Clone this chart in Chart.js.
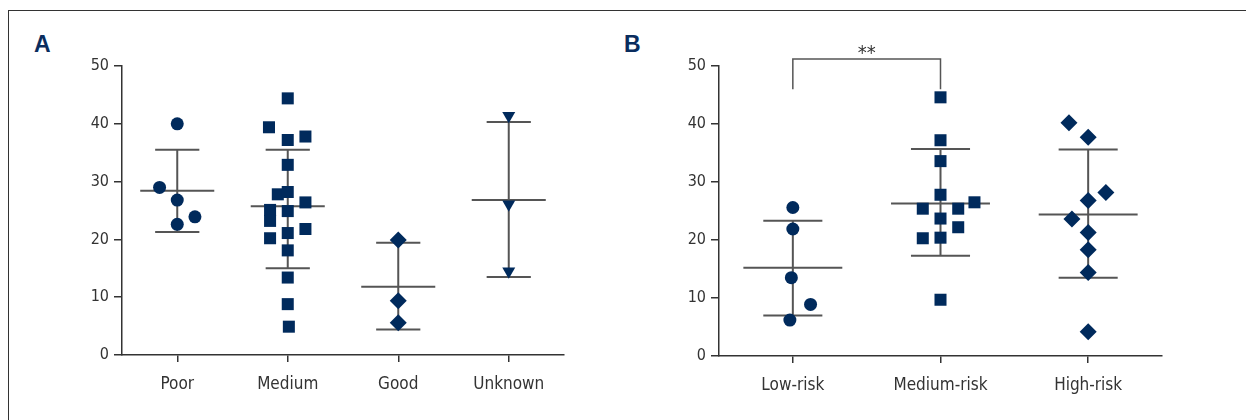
<!DOCTYPE html>
<html>
<head>
<meta charset="utf-8">
<script src="https://cdn.jsdelivr.net/npm/chart.js@4/dist/chart.umd.min.js"></script>
<style>
  body { margin: 0; width: 1246px; height: 420px; overflow: hidden; background: #fff; position: relative; }
  .frame { position: absolute; left: 8px; top: 10px; width: 1400px; height: 600px; border-top: 1px solid #333; border-left: 1px solid #333; }
  .lbl { position: absolute; font: bold 23px "Liberation Sans", Arial, sans-serif; color: #0a2d5e; line-height: 1; }
  canvas { position: absolute; top: 0; }
</style>
</head>
<body>
<div class="frame"></div>
<div class="lbl" style="left:34px; top:33px;">A</div>
<div class="lbl" style="left:624px; top:33px;">B</div>
<canvas id="graficoA" width="620" height="420" style="left:0px"></canvas>
<canvas id="graficoB" width="646" height="420" style="left:600px"></canvas>
<script>
// Painel A
const catsA = ["Poor", "Medium", "Good", "Unknown"];
const poor = [40, 29, 26.8, 23.9, 22.6];
const poorJit = [0, -0.16, 0, 0.16, 0];
const medium = [44.4, 39.4, 37.2, 37.8, 32.9, 27.8, 28.2, 26.4, 25.1, 24.9, 23.2, 21.8, 21.1, 20.2, 18.1, 13.4, 8.8, 4.9];
const mediumJit = [0, -0.17, 0, 0.16, 0, -0.09, 0, 0.16, -0.16, 0, -0.16, 0.16, 0, -0.16, 0, 0, 0, 0.01];
const good = [19.9, 9.4, 5.6];
const goodJit = [0, 0, 0];
const unknown = [41.4, 26.1, 14.5];
const unknownJit = [0, 0, 0];
const meanA = [28.4, 25.75, 11.8, 26.8];
const sdHiA = [35.5, 35.5, 19.4, 40.3];
const sdLoA = [21.3, 15.0, 4.4, 13.5];

// Painel B
const catsB = ["Low-risk", "Medium-risk", "High-risk"];
const lowRisk = [25.6, 21.9, 13.5, 8.9, 6.2];
const lowRiskJit = [0, 0, -0.01, 0.12, -0.02];
const medRisk = [44.6, 37.2, 33.6, 27.8, 25.4, 25.4, 26.5, 23.7, 22.2, 20.3, 20.4, 9.7];
const medRiskJit = [0, 0, 0, 0, -0.12, 0.12, 0.23, 0, 0.12, -0.12, 0, 0];
const highRisk = [40.2, 37.7, 28.2, 26.8, 23.6, 21.3, 18.3, 14.4, 4.2];
const highRiskJit = [-0.13, 0, 0.12, 0, -0.11, 0, 0, 0, 0];
const meanB = [15.2, 26.3, 24.4];
const sdHiB = [23.3, 35.7, 35.6];
const sdLoB = [7.0, 17.3, 13.5];

const yTicks = [0, 10, 20, 30, 40, 50];

const NAVY = "#002a5c";
const AXIS = "#333";
const BAR = "#555";
const FONT = "'Liberation Sans Narrow', 'DejaVu Sans Condensed', 'Roboto Condensed', sans-serif";

function pts(idx, vals, jit) {
  return vals.map((v, i) => ({ x: idx + jit[i], y: v }));
}

function serie(idx, vals, jit, style, r, rot) {
  return {
    data: pts(idx, vals, jit),
    pointStyle: style,
    pointRadius: r,
    pointRotation: rot || 0,
    backgroundColor: NAVY,
    borderColor: NAVY,
    borderWidth: 0,
    clip: false
  };
}

// media e desvio padrao
function barras(means, hi, lo) {
  return {
    id: "barras",
    beforeDatasetsDraw(chart) {
      const x = chart.scales.x, y = chart.scales.y, ctx = chart.ctx;
      ctx.save();
      ctx.strokeStyle = BAR;
      ctx.lineWidth = 2;
      ctx.beginPath();
      means.forEach((m, i) => {
        const c = i + 1;
        ctx.moveTo(x.getPixelForValue(c), y.getPixelForValue(hi[i]));
        ctx.lineTo(x.getPixelForValue(c), y.getPixelForValue(lo[i]));
        ctx.moveTo(x.getPixelForValue(c - 0.335), y.getPixelForValue(m));
        ctx.lineTo(x.getPixelForValue(c + 0.335), y.getPixelForValue(m));
        ctx.moveTo(x.getPixelForValue(c - 0.2), y.getPixelForValue(hi[i]));
        ctx.lineTo(x.getPixelForValue(c + 0.2), y.getPixelForValue(hi[i]));
        ctx.moveTo(x.getPixelForValue(c - 0.2), y.getPixelForValue(lo[i]));
        ctx.lineTo(x.getPixelForValue(c + 0.2), y.getPixelForValue(lo[i]));
      });
      ctx.stroke();
      ctx.restore();
    }
  };
}

function escalas(cats, yWidth, xHeight) {
  return {
    x: {
      type: "linear",
      min: 0.5,
      max: cats.length + 0.5,
      afterBuildTicks: s => { s.ticks = cats.map((c, i) => ({ value: i + 1 })); },
      afterFit: s => { s.height = xHeight; },
      ticks: { callback: v => cats[v - 1], color: AXIS, font: { family: FONT, size: 17 }, padding: 12, maxRotation: 0 },
      grid: { drawOnChartArea: false, drawTicks: true, tickLength: 7, color: AXIS, lineWidth: 1.5 },
      border: { color: AXIS, width: 1.5 }
    },
    y: {
      min: 0,
      max: 50,
      afterBuildTicks: s => { s.ticks = yTicks.map(v => ({ value: v })); },
      afterFit: s => { s.width = yWidth; },
      ticks: { color: AXIS, font: { family: FONT, size: 16 }, padding: 5 },
      grid: { drawOnChartArea: false, drawTicks: true, tickLength: 8, color: AXIS, lineWidth: 1.5 },
      border: { color: AXIS, width: 1.5 }
    }
  };
}

const base = {
  responsive: false,
  animation: false,
  plugins: { legend: { display: false }, tooltip: { enabled: false } }
};

// Grafico A
new Chart(document.getElementById("graficoA"), {
  type: "scatter",
  data: {
    datasets: [
      serie(1, poor, poorJit, "circle", 6.5),
      serie(2, medium, mediumJit, "rect", 8.5),
      serie(3, good, goodJit, "rectRot", 8.5),
      serie(4, unknown, unknownJit, "triangle", 7.5, 180)
    ]
  },
  options: Object.assign({}, base, {
    layout: { padding: { left: 60, right: 56, top: 66, bottom: 0 } },
    scales: escalas(catsA, 62, 65)
  }),
  plugins: [barras(meanA, sdHiA, sdLoA)]
});

// Grafico B, com colchete de significancia
const colchete = {
  id: "colchete",
  afterDraw(chart) {
    const x = chart.scales.x, y = chart.scales.y, ctx = chart.ctx;
    const x1 = x.getPixelForValue(1), x2 = x.getPixelForValue(2);
    const top = y.getPixelForValue(51.2), bot = y.getPixelForValue(46);
    ctx.save();
    ctx.strokeStyle = BAR;
    ctx.lineWidth = 1.5;
    ctx.beginPath();
    ctx.moveTo(x1, bot);
    ctx.lineTo(x1, top);
    ctx.lineTo(x2, top);
    ctx.lineTo(x2, bot);
    ctx.stroke();
    ctx.fillStyle = AXIS;
    ctx.font = "20px " + FONT;
    ctx.textAlign = "center";
    ctx.textBaseline = "middle";
    ctx.fillText("**", x.getPixelForValue(1.5), y.getPixelForValue(52.1));
    ctx.restore();
  }
};

new Chart(document.getElementById("graficoB"), {
  type: "scatter",
  data: {
    datasets: [
      serie(1, lowRisk, lowRiskJit, "circle", 6.5),
      serie(2, medRisk, medRiskJit, "rect", 8.5),
      serie(3, highRisk, highRiskJit, "rectRot", 8.5)
    ]
  },
  options: Object.assign({}, base, {
    layout: { padding: { left: 57, right: 84, top: 66, bottom: 0 } },
    scales: escalas(catsB, 62, 64)
  }),
  plugins: [barras(meanB, sdHiB, sdLoB), colchete]
});
</script>
</body>
</html>
